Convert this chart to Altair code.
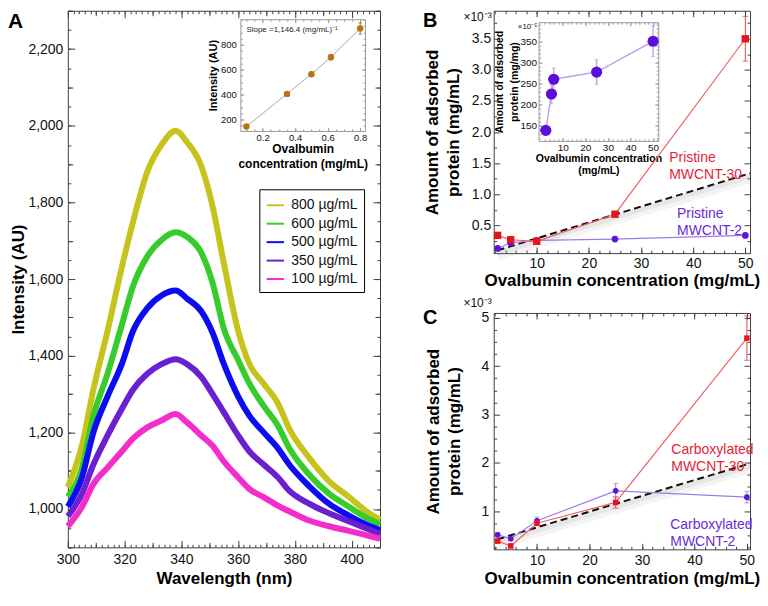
import altair as alt
import pandas as pd

FONT = "Liberation Sans"
FRAME = "#404040"
INSET_FRAME = "#9a9a9a"
RED = "#e3243b"
RED_PT = "#e8141c"
RED_LINE = "#ee6464"
PUR = "#5d14d6"
PUR_LINE = "#9d7ce6"
PUR_TEXT = "#6b2bd9"

# ---------------- Panel A : emission spectra ----------------
wavelength_nm = [300, 305, 309, 314, 319, 323, 328, 333, 338, 342, 347, 351,
                 355, 360, 364, 369, 374, 378, 385, 392, 399, 405, 410]
series_labels = ["800 µg/mL", "600 µg/mL", "500 µg/mL", "350 µg/mL", "100 µg/mL"]
series_colors = ["#c6c41c", "#35cc2c", "#0c0cf2", "#6a20d0", "#f42cca"]
int_800 = [1057, 1167, 1312, 1465, 1630, 1750, 1880, 1950, 1987, 1957, 1895, 1790,
           1640, 1465, 1378, 1327, 1276, 1210, 1134, 1073, 1032, 995, 972]
int_600 = [1032, 1108, 1243, 1353, 1480, 1582, 1659, 1702, 1722, 1710, 1669, 1590,
           1470, 1389, 1327, 1269, 1218, 1159, 1090, 1040, 1006, 978, 960]
int_500 = [1006, 1083, 1200, 1294, 1378, 1465, 1524, 1557, 1570, 1549, 1516, 1460,
           1378, 1294, 1243, 1200, 1159, 1116, 1060, 1014, 983, 960, 945]
int_350 = [981, 1040, 1116, 1192, 1261, 1312, 1353, 1378, 1391, 1378, 1345, 1300,
           1252, 1192, 1150, 1116, 1083, 1048, 1014, 989, 968, 950, 935]
int_100 = [955, 1006, 1065, 1108, 1150, 1184, 1213, 1231, 1248, 1226, 1192, 1165,
           1124, 1083, 1052, 1031, 1009, 994, 970, 955, 943, 932, 922]

# Panel A inset : calibration
inset_a_conc = [0.1, 0.35, 0.5, 0.62, 0.8]
inset_a_int = [145, 407, 565, 701, 931]
inset_a_err = [12, 14, 18, 22, 45]
slope_label = "Slope =1,146.4 (mg/mL)\u207b\u00b9"

# ---------------- Panel B : pristine ----------------
conc_b = [2.5, 5, 10, 25, 50]
b_mwcnt30 = [0.34, 0.27, 0.245, 0.68, 3.5]
b_mwcnt30_err = [0.02, 0.02, 0.02, 0.04, 0.36]
b_mwcnt2 = [0.13, 0.22, 0.26, 0.28, 0.34]
b_mwcnt2_err = [0.01, 0.01, 0.01, 0.01, 0.01]
b_trend_x = [2.5, 51]
b_trend_y = [0.10, 1.34]

# Panel B inset
inset_b_conc = [2.5, 5, 6, 25, 50]
inset_b_amount = [139, 225, 260, 277, 350]
inset_b_err = [10, 23, 26, 29, 36]

# ---------------- Panel C : carboxylated ----------------
conc_c = [2.5, 5, 10, 25, 50]
c_mwcnt30 = [0.38, 0.28, 0.75, 1.18, 4.58]
c_mwcnt30_err = [0.04, 0.04, 0.05, 0.12, 0.46]
c_mwcnt2 = [0.51, 0.43, 0.80, 1.42, 1.29]
c_mwcnt2_err = [0.05, 0.04, 0.08, 0.15, 0.12]
c_trend_x = [2.5, 51]
c_trend_y = [0.42, 2.0]

# ---------------- ticks ----------------
a_x_lab = [300, 320, 340, 360, 380, 400]
a_x_mid = [310, 330, 350, 370, 390, 410]
a_x_min = list(range(300, 411, 2))
a_y_lab = [1000, 1200, 1400, 1600, 1800, 2000, 2200]
a_y_mid = [900, 1100, 1300, 1500, 1700, 1900, 2100, 2300]
a_y_min = list(range(900, 2301, 50))
ia_x_lab = [0.2, 0.4, 0.6, 0.8]
ia_x_min = [0.1, 0.15, 0.2, 0.25, 0.3, 0.35, 0.4, 0.45, 0.5, 0.55, 0.6, 0.65, 0.7, 0.75, 0.8]
ia_y_lab = [200, 400, 600, 800]
ia_y_min = list(range(150, 1001, 50))
bc_x_lab = [10, 20, 30, 40, 50]
bc_x_min = list(range(2, 51, 2))
b_y_lab = [0.5, 1.0, 1.5, 2.0, 2.5, 3.0, 3.5]
b_y_min = [0.25, 0.75, 1.25, 1.75, 2.25, 2.75, 3.25, 3.75]
c_y_lab = [1, 2, 3, 4, 5]
c_y_min = [0.25, 0.5, 0.75, 1.25, 1.5, 1.75, 2.25, 2.5, 2.75, 3.25, 3.5, 3.75,
           4.25, 4.5, 4.75, 5]
ib_x_lab = [10, 20, 30, 40, 50]
ib_x_min = list(range(2, 53, 2))
ib_y_lab = [150, 200, 250, 300, 350]
ib_y_min = list(range(120, 391, 10))

# ---------------- layout (pixels inside one view) ----------------
LW, LH = 744, 580
RECT_A = (60, 2, 373, 540)        # left, top, right, bottom
RECT_IA = (233, 10.5, 358, 122.5)
RECT_B = (487, 2, 744, 245)
RECT_IB = (532, 13.5, 652, 132.5)
RECT_C = (487, 305, 744, 542)
TITLE = 17


def offs(rect):
    l, t, r, b = rect
    return {"left": -l, "right": r - LW, "top": -t, "bottom": b - LH}


def sc(domain, rect, axis):
    l, t, r, b = rect
    rng = [l, r] if axis == "x" else [b, t]
    return alt.Scale(domain=domain, range=rng, nice=False, zero=False)


def mk_axis(orient, values, size, color, offset, domain=False, labels=False, title=None,
            label_expr=None, fmt=None, pad=4, font_size=14, title_size=TITLE, title_pad=4,
            title_lh=None):
    kw = dict(orient=orient, values=values, offset=offset, grid=False, ticks=True,
              tickSize={"expr": str(-size)}, tickColor=color, tickWidth=1,
              domain=domain, minExtent=0, title=title, labels=labels)
    if domain:
        kw.update(domainColor=color, domainWidth=1)
    if labels:
        kw.update(labelPadding=pad + size, labelFontSize=font_size, labelFont=FONT,
                  labelColor="#111", labelOverlap=False, labelFlush=False)
        if label_expr:
            kw["labelExpr"] = label_expr
        if fmt:
            kw["format"] = fmt
    if title is not None:
        kw.update(titleFontSize=title_size, titleFont=FONT, titleFontWeight="bold",
                  titleColor="black", titlePadding=title_pad)
        if title_lh:
            kw["titleLineHeight"] = title_lh
    return alt.Axis(**kw)


def frame_axes(xs, ys, xdom, ydom, rect, xlevels, ylevels, color, xlab, ylab):
    anchor = pd.DataFrame({"ax": [xdom[0]], "ay": [ydom[0]]})
    o = offs(rect)
    layers = []
    for side_x, side_y in (("bottom", "left"), ("top", "right")):
        for i, ((xv, xsz), (yv, ysz)) in enumerate(zip(xlevels, ylevels)):
            labeled = i == 0 and side_x == "bottom"
            xa = mk_axis(side_x, xv, xsz, color, o[side_x], domain=(i == 0), labels=labeled,
                         **(xlab if labeled else {}))
            ya = mk_axis(side_y, yv, ysz, color, o[side_y], domain=(i == 0), labels=labeled,
                         **(ylab if labeled else {}))
            layers.append(alt.Chart(anchor).mark_point(opacity=0, size=1).encode(
                x=alt.X("ax:Q", scale=xs, axis=xa), y=alt.Y("ay:Q", scale=ys, axis=ya)))
    return layers


def err_layers(df, xf, lo, hi, xs, ys, color, cap, width=1.0):
    rule = alt.Chart(df).mark_rule(color=color, strokeWidth=width).encode(
        x=alt.X(f"{xf}:Q", scale=xs, axis=None),
        y=alt.Y(f"{lo}:Q", scale=ys, axis=None), y2=f"{hi}:Q")
    caps = [alt.Chart(df).mark_tick(color=color, orient="horizontal", size=cap,
                                    thickness=width).encode(
        x=alt.X(f"{xf}:Q", scale=xs, axis=None),
        y=alt.Y(f"{f}:Q", scale=ys, axis=None)) for f in (lo, hi)]
    return [rule] + caps


def free_text(txt, x, y, size, weight="normal", align="left", baseline="top", color="black"):
    return alt.Chart(pd.DataFrame({"t": [txt]})).mark_text(
        align=align, baseline=baseline, fontSize=size, fontWeight=weight, font=FONT, color=color
    ).encode(text="t:N", x=alt.value(x), y=alt.value(y))


# ================= Panel A =================
rows = []
for lab, vals in zip(series_labels, [int_800, int_600, int_500, int_350, int_100]):
    for w, v in zip(wavelength_nm, vals):
        rows.append({"wl": w, "I": v, "series": lab})
df_spec = pd.DataFrame(rows)

xdomA, ydomA = [300, 410], [900, 2300]
xA, yA = sc(xdomA, RECT_A, "x"), sc(ydomA, RECT_A, "y")
spectra = alt.Chart(df_spec).mark_line(strokeWidth=6, interpolate="monotone", clip=True).encode(
    x=alt.X("wl:Q", scale=xA, axis=None),
    y=alt.Y("I:Q", scale=yA, axis=None),
    color=alt.Color("series:N", scale=alt.Scale(domain=series_labels, range=series_colors),
                    legend=alt.Legend(title=None, orient="none", legendX=252, legendY=181,
                                      strokeColor="black", fillColor="white", padding=6,
                                      symbolType="stroke", symbolSize=300, symbolStrokeWidth=2,
                                      labelFontSize=14, labelFont=FONT, labelColor="#111",
                                      rowPadding=1.5, labelOffset=6)),
)
panel_A = alt.layer(
    spectra,
    *frame_axes(xA, yA, xdomA, ydomA, RECT_A,
                [(a_x_lab, 7), (a_x_mid, 5), (a_x_min, 3)],
                [(a_y_lab, 7), (a_y_mid, 5), (a_y_min, 3)], FRAME,
                dict(title="Wavelength (nm)", pad=5, title_pad=4),
                dict(title="Intensity (AU)", fmt=",.0f", pad=5, title_pad=0)),
).resolve_axis(x="independent", y="independent")

# inset A
xdomIA, ydomIA = [0.063, 0.83], [110, 1005]
xIA, yIA = sc(xdomIA, RECT_IA, "x"), sc(ydomIA, RECT_IA, "y")
df_ia = pd.DataFrame({"c": inset_a_conc, "v": inset_a_int,
                      "lo": [v - e for v, e in zip(inset_a_int, inset_a_err)],
                      "hi": [v + e for v, e in zip(inset_a_int, inset_a_err)]})
df_ia_note = pd.DataFrame({"x": [0.1], "y": [917], "t": [slope_label]})
ia_line = alt.Chart(df_ia).mark_line(color="#a8a8a8", strokeWidth=1).encode(
    x=alt.X("c:Q", scale=xIA, axis=None), y=alt.Y("v:Q", scale=yIA, axis=None))
ia_pts = alt.Chart(df_ia).mark_circle(size=42, color="#b8740e", opacity=1).encode(
    x=alt.X("c:Q", scale=xIA, axis=None), y=alt.Y("v:Q", scale=yIA, axis=None))
ia_note = alt.Chart(df_ia_note).mark_text(align="left", baseline="middle", fontSize=8,
                                          font=FONT, color="#222").encode(
    x=alt.X("x:Q", scale=xIA, axis=None), y=alt.Y("y:Q", scale=yIA, axis=None), text="t:N")
inset_A = alt.layer(
    ia_line, *err_layers(df_ia, "c", "lo", "hi", xIA, yIA, "#9a6a20", 4), ia_pts, ia_note,
    *frame_axes(xIA, yIA, xdomIA, ydomIA, RECT_IA,
                [(ia_x_lab, 3.5), (ia_x_min, 2)], [(ia_y_lab, 3.5), (ia_y_min, 2)], INSET_FRAME,
                dict(title=["Ovalbumin", "concentration (mg/mL)"], fmt=".1f", pad=1.5,
                     font_size=9.5, title_size=12, title_pad=2, title_lh=15),
                dict(title="Intensity (AU)", pad=4, font_size=9.5, title_size=11, title_pad=2)),
).resolve_axis(x="independent", y="independent")


# ================= Panels B and C =================
def adsorption_panel(rect, conc, s30, e30, s2, e2, tx, ty, xdom, ydom, ylevels,
                     label30, label2, pos30, pos2, sq, circ, xlab, ylab):
    xs, ys = sc(xdom, rect, "x"), sc(ydom, rect, "y")
    df = pd.DataFrame({"c": conc, "r": s30, "p": s2,
                       "r_lo": [v - e for v, e in zip(s30, e30)],
                       "r_hi": [v + e for v, e in zip(s30, e30)],
                       "p_lo": [v - e for v, e in zip(s2, e2)],
                       "p_hi": [v + e for v, e in zip(s2, e2)]})
    dft = pd.DataFrame({"c": tx, "v": ty})
    enc = dict(x=alt.X("c:Q", scale=xs, axis=None), y=alt.Y("v:Q", scale=ys, axis=None))
    shadow1 = alt.Chart(dft).mark_line(color="#888", strokeWidth=10, opacity=0.09, yOffset=5,
                                       clip=True).encode(**enc)
    shadow2 = alt.Chart(dft).mark_line(color="#888", strokeWidth=5, opacity=0.13, yOffset=3,
                                       clip=True).encode(**enc)
    dashed = alt.Chart(dft).mark_line(color="#111", strokeWidth=2, strokeDash=[7, 4],
                                      clip=True).encode(**enc)
    rline = alt.Chart(df).mark_line(color=RED_LINE, strokeWidth=1.2).encode(
        x=alt.X("c:Q", scale=xs, axis=None), y=alt.Y("r:Q", scale=ys, axis=None))
    pline = alt.Chart(df).mark_line(color=PUR_LINE, strokeWidth=1.2).encode(
        x=alt.X("c:Q", scale=xs, axis=None), y=alt.Y("p:Q", scale=ys, axis=None))
    rpts = alt.Chart(df).mark_square(size=sq, color=RED_PT, opacity=1).encode(
        x=alt.X("c:Q", scale=xs, axis=None), y=alt.Y("r:Q", scale=ys, axis=None))
    ppts = alt.Chart(df).mark_circle(size=circ, color=PUR, opacity=1).encode(
        x=alt.X("c:Q", scale=xs, axis=None), y=alt.Y("p:Q", scale=ys, axis=None))
    ann = []
    for txt, pos, col in ((label30, pos30, RED), (label2, pos2, PUR_TEXT)):
        dfa = pd.DataFrame({"x": [pos[0]], "y": [pos[1]], "t": [txt]})
        ann.append(alt.Chart(dfa).mark_text(align="left", baseline="middle", fontSize=14,
                                            font=FONT, color=col, lineBreak="\n",
                                            lineHeight=17).encode(
            x=alt.X("x:Q", scale=xs, axis=None), y=alt.Y("y:Q", scale=ys, axis=None), text="t:N"))
    layers = [shadow1, shadow2, dashed,
              *err_layers(df, "c", "p_lo", "p_hi", xs, ys, PUR_LINE, 5), pline, ppts,
              *err_layers(df, "c", "r_lo", "r_hi", xs, ys, "#e0474f", 6), rline, rpts,
              *ann,
              *frame_axes(xs, ys, xdom, ydom, rect, [(bc_x_lab, 6), (bc_x_min, 3)],
                          ylevels, FRAME, xlab, ylab)]
    return alt.layer(*layers).resolve_axis(x="independent", y="independent")


panel_B = adsorption_panel(
    RECT_B, conc_b, b_mwcnt30, b_mwcnt30_err, b_mwcnt2, b_mwcnt2_err, b_trend_x, b_trend_y,
    [1.75, 50.9], [0.055, 3.95], [(b_y_lab, 6), (b_y_min, 3)],
    "Pristine\nMWCNT-30", "Pristine\nMWCNT-2", (35.4, 1.59), (36.9, 0.69), 55, 45,
    dict(title="Ovalbumin concentration (mg/mL)", pad=3.5, title_pad=1.5),
    dict(title=["Amount of adsorbed", "protein (mg/mL)"], fmt=".1f", pad=3, title_pad=9,
         title_lh=21))

panel_C = adsorption_panel(
    RECT_C, conc_c, c_mwcnt30, c_mwcnt30_err, c_mwcnt2, c_mwcnt2_err, c_trend_x, c_trend_y,
    [1.75, 50.6], [0.21, 5.1], [(c_y_lab, 6), (c_y_min, 3)],
    "Carboxylated\nMWCNT-30", "Carboxylated\nMWCNT-2", (35.6, 2.27), (35.4, 0.72), 30, 32,
    dict(title="Ovalbumin concentration (mg/mL)", pad=4, title_pad=3),
    dict(title=["Amount of adsorbed", "protein (mg/mL)"], fmt="d", pad=5, title_pad=18,
         title_lh=21))

# inset B
xdomIB, ydomIB = [-0.7, 52.3], [114, 395]
xIB, yIB = sc(xdomIB, RECT_IB, "x"), sc(ydomIB, RECT_IB, "y")
df_ib = pd.DataFrame({"c": inset_b_conc, "v": inset_b_amount,
                      "lo": [v - e for v, e in zip(inset_b_amount, inset_b_err)],
                      "hi": [v + e for v, e in zip(inset_b_amount, inset_b_err)]})
ib_line = alt.Chart(df_ib).mark_line(color="#bda6f0", strokeWidth=1.5).encode(
    x=alt.X("c:Q", scale=xIB, axis=None), y=alt.Y("v:Q", scale=yIB, axis=None))
ib_pts = alt.Chart(df_ib).mark_circle(size=125, color="#5a0fd8", opacity=1).encode(
    x=alt.X("c:Q", scale=xIB, axis=None), y=alt.Y("v:Q", scale=yIB, axis=None))
inset_B = alt.layer(
    ib_line, *err_layers(df_ib, "c", "lo", "hi", xIB, yIB, "#c3adf2", 4, 1.5), ib_pts,
    *frame_axes(xIB, yIB, xdomIB, ydomIB, RECT_IB,
                [(ib_x_lab, 3.5), (ib_x_min, 2)], [(ib_y_lab, 3.5), (ib_y_min, 2)], INSET_FRAME,
                dict(title=["Ovalbumin concentration", "(mg/mL)"], pad=1.5, font_size=10,
                     title_size=10.5, title_pad=1.5, title_lh=12),
                dict(title=["Amount of adsorbed", "protein (mg/mg)"], pad=2, font_size=10,
                     title_size=10.5, title_pad=0, title_lh=15)),
).resolve_axis(x="independent", y="independent")

texts = [
    free_text("A", 0, 2, 21, "bold"),
    free_text("B", 416, 2, 20, "bold"),
    free_text("C", 416, 300, 20, "bold"),
    free_text("\u00d710\u207b\u00b3", 485, 8, 12, align="right", baseline="middle", color="#111"),
    free_text("\u00d710\u207b\u00b3", 485, 295, 12, align="right", baseline="middle", color="#111"),
    free_text("\u00d710\u207b\u2075", 531, 18, 8, align="right", baseline="middle", color="#111"),
]

chart = alt.layer(panel_A, inset_A, panel_B, inset_B, panel_C, *texts).resolve_scale(
    x="independent", y="independent"
).properties(width=LW, height=LH, padding=0).configure(font=FONT).configure_view(strokeWidth=0)

chart.save("out.html", embed_options={"renderer": "svg", "actions": False})
